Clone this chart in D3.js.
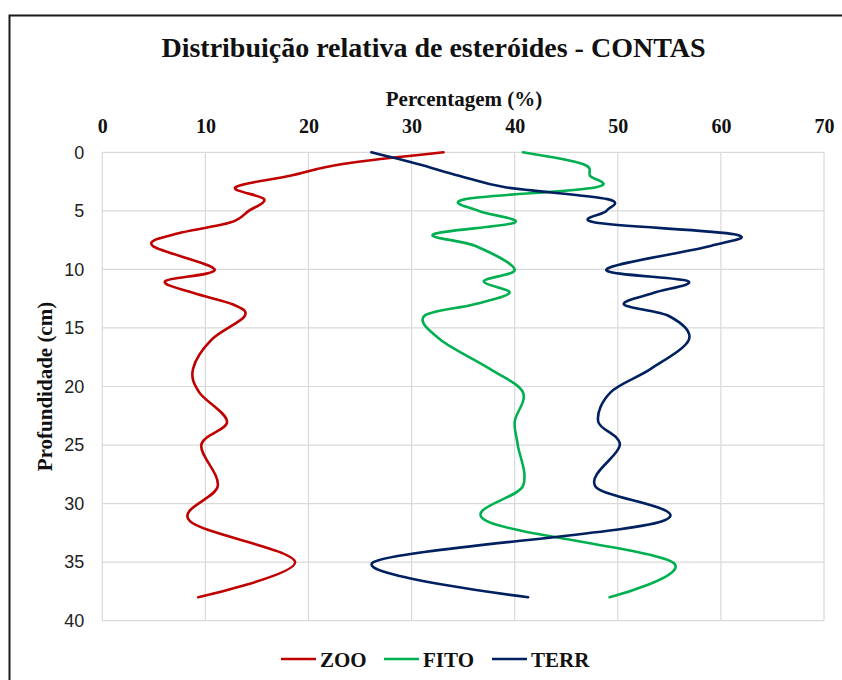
<!DOCTYPE html>
<html>
<head>
<meta charset="utf-8">
<script src="https://cdn.jsdelivr.net/npm/d3@7"></script>
<style>
  body { margin: 0; background: #fff; }
  svg { display: block; }
</style>
</head>
<body>
<svg id="chart" width="842" height="680"></svg>
<script>
// ---- data ----
const depth = [0, 1, 2, 3, 4, 5, 6, 7, 8, 10, 11, 12, 13, 14, 16, 18.5, 20.5, 23, 25, 28.5, 31.5, 35, 38];
const zoo   = [33.1, 23.3, 18.2, 12.9, 15.7, 14.2, 12.4, 7.0, 4.9, 10.9, 6.1, 8.8, 12.7, 13.8, 10.6, 8.8, 9.4, 12.1, 9.6, 11.2, 8.5, 18.7, 9.3];
const fito  = [40.8, 46.6, 47.3, 47.8, 35.2, 36.5, 40.0, 32.1, 36.2, 40.0, 37.0, 39.5, 36.0, 31.2, 32.8, 37.6, 40.8, 40.0, 40.3, 40.8, 37.3, 55.3, 49.2];
const terr  = [26.1, 30.6, 34.6, 39.2, 49.0, 48.9, 47.8, 61.3, 59.0, 48.9, 56.8, 53.5, 50.6, 55.0, 56.9, 53.2, 49.3, 48.1, 50.2, 47.8, 54.3, 26.3, 41.3];
const seriesNames = ["ZOO", "FITO", "TERR"];
const seriesColors = ["#C00000", "#00B050", "#002060"];
const xTicks = [0, 10, 20, 30, 40, 50, 60, 70];
const yTicks = [0, 5, 10, 15, 20, 25, 30, 35, 40];
const titleText = "Distribuição relativa de esteróides - CONTAS";
const xTitle = "Percentagem (%)";
const yTitle = "Profundidade (cm)";

// ---- layout ----
const svg = d3.select("#chart");
const pL = 102.3, pR = 824, pT = 152.3, pB = 620.7;
const x = d3.scaleLinear().domain([0, 70]).range([pL, pR]);
const y = d3.scaleLinear().domain([0, 40]).range([pT, pB]);
const serif = "'Liberation Serif', 'Times New Roman', serif";
const sans = "'Liberation Sans', Arial, sans-serif";

// outer border
svg.append("rect").attr("x", 9.5).attr("y", 15.5).attr("width", 850).attr("height", 700)
  .attr("fill", "none").attr("stroke", "#1a1a1a").attr("stroke-width", 2);

// title
svg.append("text").attr("x", 433.5).attr("y", 57).attr("text-anchor", "middle")
  .attr("font-family", serif).attr("font-weight", "bold").attr("font-size", 28)
  .attr("fill", "#111").text(titleText);

// grid
const g = svg.append("g");
g.selectAll(".vg").data(xTicks).join("line")
  .attr("x1", d => x(d)).attr("x2", d => x(d)).attr("y1", pT).attr("y2", pB)
  .attr("stroke", "#d9d9d9").attr("stroke-width", 1.2);
g.selectAll(".hg").data(yTicks).join("line")
  .attr("x1", pL).attr("x2", pR).attr("y1", d => y(d)).attr("y2", d => y(d))
  .attr("stroke", "#d9d9d9").attr("stroke-width", 1.2);

// x axis (top)
const xAxis = d3.axisTop(x).tickValues(xTicks).tickSize(0).tickPadding(19);
const xa = svg.append("g").attr("transform", `translate(0,${pT})`).call(xAxis);
xa.select(".domain").remove();
xa.selectAll("text").attr("font-family", serif).attr("font-weight", "bold")
  .attr("font-size", 20).attr("fill", "#111");

// y axis
const yAxis = d3.axisLeft(y).tickValues(yTicks).tickSize(0).tickPadding(18);
const ya = svg.append("g").attr("transform", `translate(${pL},0)`).call(yAxis);
ya.select(".domain").remove();
ya.selectAll("text").attr("font-family", sans).attr("font-size", 18).attr("fill", "#222");

// axis titles
svg.append("text").attr("x", 464).attr("y", 106).attr("text-anchor", "middle")
  .attr("font-family", serif).attr("font-weight", "bold").attr("font-size", 21)
  .attr("fill", "#111").text(xTitle);
svg.append("text").attr("transform", `translate(52,${(pT + pB) / 2}) rotate(-90)`)
  .attr("text-anchor", "middle")
  .attr("font-family", serif).attr("font-weight", "bold").attr("font-size", 21)
  .attr("fill", "#111").text(yTitle);

// lines
const allSeries = [zoo, fito, terr];
const line = d3.line()
  .x(d => x(d[1])).y(d => y(d[0]))
  .curve(d3.curveCatmullRom.alpha(0));
allSeries.forEach((vals, i) => {
  const pts = depth.map((dp, j) => [dp, vals[j]]);
  svg.append("path").datum(pts).attr("d", line)
    .attr("fill", "none").attr("stroke", seriesColors[i]).attr("stroke-width", 2.6)
    .attr("stroke-linejoin", "round").attr("stroke-linecap", "round");
});

// legend
const legendX = [281, 384, 492];
seriesNames.forEach((name, i) => {
  const lg = svg.append("g").attr("transform", `translate(${legendX[i]},659)`);
  lg.append("line").attr("x1", 0).attr("x2", 35).attr("y1", 0).attr("y2", 0)
    .attr("stroke", seriesColors[i]).attr("stroke-width", 2.6);
  lg.append("text").attr("x", 39).attr("y", 7.5)
    .attr("font-family", serif).attr("font-weight", "bold").attr("font-size", 21)
    .attr("fill", "#111").text(name);
});
</script>
</body>
</html>
